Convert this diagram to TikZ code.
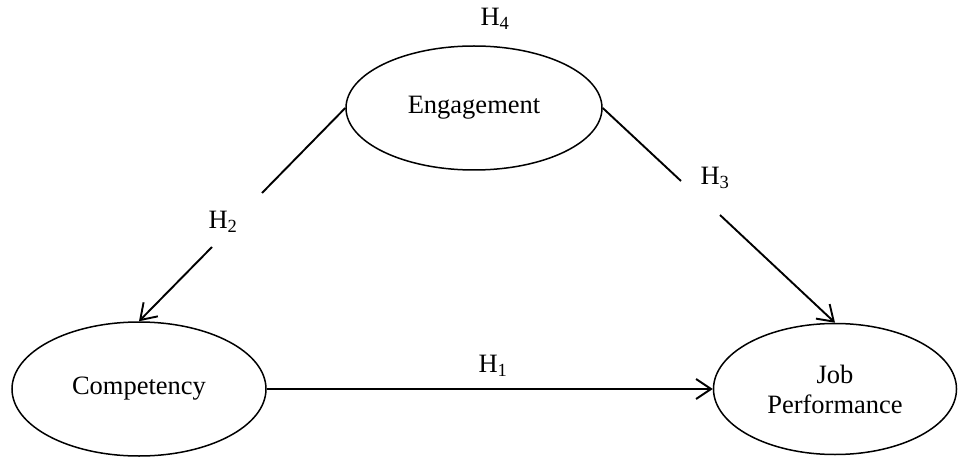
\documentclass[tikz,border=0pt]{standalone}
\usepackage{fontspec}
\setmainfont{Liberation Serif}
\usetikzlibrary{shapes.geometric,arrows.meta}
\tikzset{
  construct/.style={ellipse, draw, line width=1.5pt, inner sep=0pt, align=center,
    font=\fontsize{26.5}{30}\selectfont},
  hyp/.style={font=\fontsize{26.5}{30}\selectfont, inner sep=0pt},
  link/.style={line width=1.9pt},
  linkarrow/.style={line width=1.9pt, -{Straight Barb[length=15pt,width=20pt,line width=1.9pt]}}
}
\begin{document}
\begin{tikzpicture}[x=1pt,y=-1pt]
  \useasboundingbox (0,0) rectangle (958,457);
  \node[construct, minimum width=256pt, minimum height=124pt] (eng) at (474,108) {Engagement};
  \node[construct, minimum width=254pt, minimum height=134pt] (comp) at (139,389) {Competency};
  \node[construct, minimum width=243pt, minimum height=131pt] (job) at (835,389) {Job\\Performance};

  \node[hyp] (h4) at (495,19) {H\textsubscript{4}};
  \node[hyp] (h2) at (223,222) {H\textsubscript{2}};
  \node[hyp] (h3) at (715,178) {H\textsubscript{3}};
  \node[hyp] (h1) at (493,366) {H\textsubscript{1}};

  \coordinate (h2a) at (262,193);
  \coordinate (h2b) at (212,247);
  \coordinate (h3a) at (681,181);
  \coordinate (h3b) at (720,215);

  \draw[link] (eng.west) -- (h2a);
  \draw[linkarrow] (h2b) -- (comp.north);
  \draw[link] (eng.east) -- (h3a);
  \draw[linkarrow] (h3b) -- (job.north);
  \draw[linkarrow] (comp.east) -- (job.west);
\end{tikzpicture}
\end{document}
